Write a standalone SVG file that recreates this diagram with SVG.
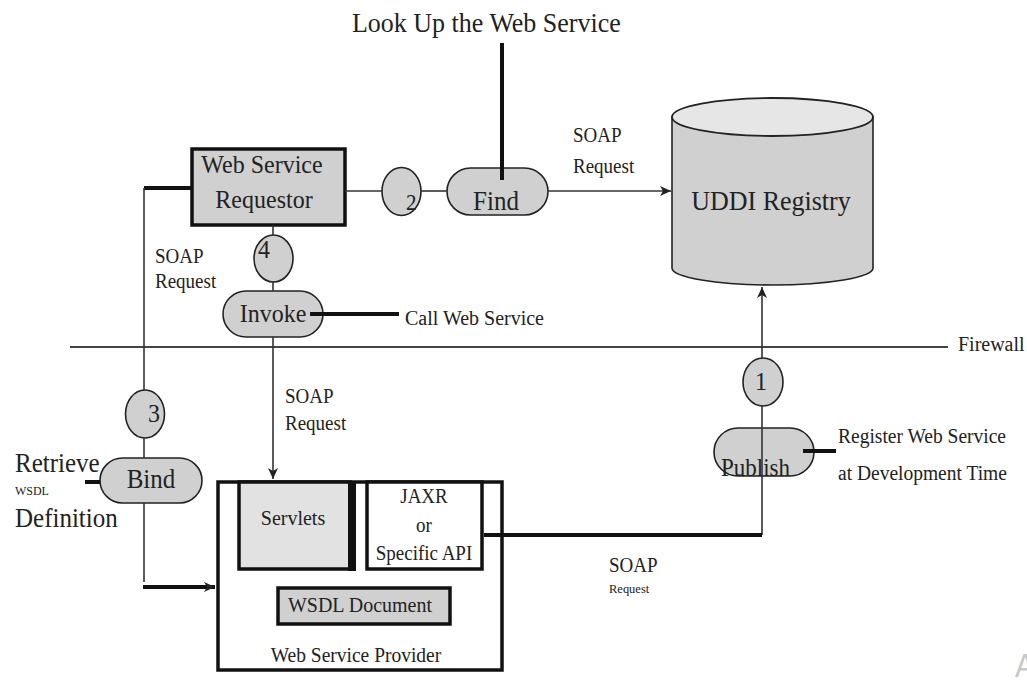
<svg xmlns="http://www.w3.org/2000/svg" width="1027" height="682" viewBox="0 0 1027 682">
  <style>
    text { font-family: "Liberation Serif", "Times New Roman", serif; fill: #222;
           transform-box: fill-box; transform-origin: 50% 100%; transform: scaleY(1.08); }
    .node { fill: #d0d0d0; stroke: #222; stroke-width: 1.6; }
    .thin { fill: none; stroke: #333; stroke-width: 1.6; }
    .thick { fill: none; stroke: #111; stroke-width: 4; }
    .fw { fill: none; stroke: #444; stroke-width: 1.8; }
    .mid { text-anchor: middle; }
  </style>
  <defs>
    <marker id="arrow" markerUnits="userSpaceOnUse" markerWidth="12" markerHeight="10" refX="11" refY="5" orient="auto">
      <path d="M0,0 L11,5 L0,10 L3,5 Z" fill="#222"/>
    </marker>
  </defs>

  <rect width="1027" height="682" fill="#ffffff"/>

  <!-- free-standing labels -->
  <text x="352" y="32" font-size="26">Look Up the Web Service</text>
  <line class="fw" x1="70" y1="347" x2="948" y2="347"/>
  <text x="958" y="351" font-size="20" fill="#333">Firewall</text>

  <!-- UDDI registry cylinder -->
  <g id="uddi">
    <path class="node" d="M672,117 V268 A100.5,17 0 0 0 873,268 V117 Z"/>
    <ellipse cx="772.5" cy="117" rx="100.5" ry="19" fill="#e6e6e6" stroke="#222" stroke-width="1.8"/>
    <text class="mid" x="771" y="210" font-size="26">UDDI Registry</text>
  </g>

  <!-- Web Service Requestor -->
  <g id="requestor">
    <rect x="192" y="149" width="153" height="76" fill="#d0d0d0" stroke="#111" stroke-width="3.5"/>
    <text class="mid" x="262" y="173" font-size="24">Web Service</text>
    <text class="mid" x="264" y="208" font-size="24">Requestor</text>
  </g>

  <!-- step markers -->
  <g id="step1">
    <ellipse class="node" cx="763" cy="382" rx="20" ry="24"/>
    <text class="mid" x="761" y="390" font-size="24">1</text>
  </g>
  <g id="step2">
    <ellipse class="node" cx="401.5" cy="191.5" rx="19.5" ry="24"/>
    <text x="406" y="210" font-size="21">2</text>
  </g>
  <g id="step3">
    <ellipse class="node" cx="145" cy="414" rx="19.5" ry="24"/>
    <text x="148" y="422" font-size="24">3</text>
  </g>
  <g id="step4">
    <ellipse class="node" cx="273.5" cy="258.5" rx="19.5" ry="23.5"/>
    <text x="258" y="258" font-size="24">4</text>
  </g>

  <!-- activities -->
  <g id="find">
    <rect class="node" x="447" y="168" width="101" height="47" rx="23.5"/>
    <text class="mid" x="496" y="210" font-size="25">Find</text>
  </g>
  <g id="invoke">
    <rect class="node" x="223" y="291" width="100" height="46" rx="23"/>
    <text class="mid" x="273" y="322" font-size="24">Invoke</text>
  </g>
  <g id="bind">
    <rect class="node" x="100" y="458" width="102" height="45" rx="22.5"/>
    <text class="mid" x="151" y="488" font-size="25">Bind</text>
  </g>
  <g id="publish">
    <rect class="node" x="714" y="428" width="100" height="48" rx="24"/>
    <text x="721" y="476" font-size="23">Publish</text>
  </g>

  <!-- Web Service Provider -->
  <g id="provider">
    <rect x="218" y="482" width="284" height="188" fill="#ffffff" stroke="#111" stroke-width="3.5"/>
    <text class="mid" x="356" y="662" font-size="19.5">Web Service Provider</text>
  </g>
  <g id="servlets">
    <rect x="239" y="482" width="111" height="87" fill="#e2e2e2" stroke="#111" stroke-width="3.5"/>
    <rect x="348" y="482" width="8" height="89" fill="#111"/>
    <text class="mid" x="293" y="525" font-size="20">Servlets</text>
  </g>
  <g id="jaxr">
    <rect x="367" y="482" width="115" height="87" fill="#ffffff" stroke="#111" stroke-width="3.5"/>
    <text class="mid" x="424" y="503" font-size="19">JAXR</text>
    <text class="mid" x="424" y="532" font-size="19">or</text>
    <text class="mid" x="424" y="560" font-size="19">Specific API</text>
  </g>
  <g id="wsdl">
    <rect x="278" y="588" width="172" height="36" fill="#d0d0d0" stroke="#111" stroke-width="3.5"/>
    <text class="mid" x="360" y="612" font-size="20">WSDL Document</text>
  </g>

  <!-- annotations -->
  <text x="573" y="142" font-size="19">SOAP</text>
  <text x="573" y="173" font-size="19">Request</text>
  <text x="155" y="263" font-size="19">SOAP</text>
  <text x="155" y="288" font-size="19">Request</text>
  <text x="285" y="403" font-size="19">SOAP</text>
  <text x="285" y="430" font-size="19">Request</text>
  <text x="609" y="572" font-size="19">SOAP</text>
  <text x="609" y="593" font-size="12.5">Request</text>
  <text x="405" y="325" font-size="20">Call Web Service</text>
  <text x="15" y="472" font-size="25">Retrieve</text>
  <text x="15" y="495" font-size="12">WSDL</text>
  <text x="15" y="527" font-size="25">Definition</text>
  <text x="838" y="443" font-size="19.5">Register Web Service</text>
  <text x="838" y="480" font-size="19.5">at Development Time</text>
  <text x="1015" y="678" font-size="30" style="font-family: 'Liberation Sans', Arial, sans-serif; fill: #c8c8c8;">A</text>

  <!-- connectors -->
  <g id="connectors">
    <path class="thin" d="M345,191 H382"/>
    <path class="thin" d="M421,191 H447"/>
    <path class="thin" d="M548,191 H671" marker-end="url(#arrow)"/>
    <path class="thick" d="M502,43 V180"/>
    <path class="thin" d="M273,225 V235"/>
    <path class="thin" d="M273,282 V291"/>
    <path class="thin" d="M273,337 V479" marker-end="url(#arrow)"/>
    <path class="thick" d="M310,314 H399"/>
    <path class="thick" d="M192,188 H144"/>
    <path class="thin" d="M144,188 V390 M144,438 V458 M144,503 V582"/>
    <path class="thick" d="M85,482 H100"/>
    <path class="thick" d="M143,587 H215" marker-end="url(#arrow)"/>
    <path class="thin" d="M762,358 V287" marker-end="url(#arrow)"/>
    <path class="thin" d="M762,406 V535"/>
    <path class="thick" d="M762,535 H484"/>
    <path class="thick" d="M803,451 H836"/>
  </g>
</svg>
